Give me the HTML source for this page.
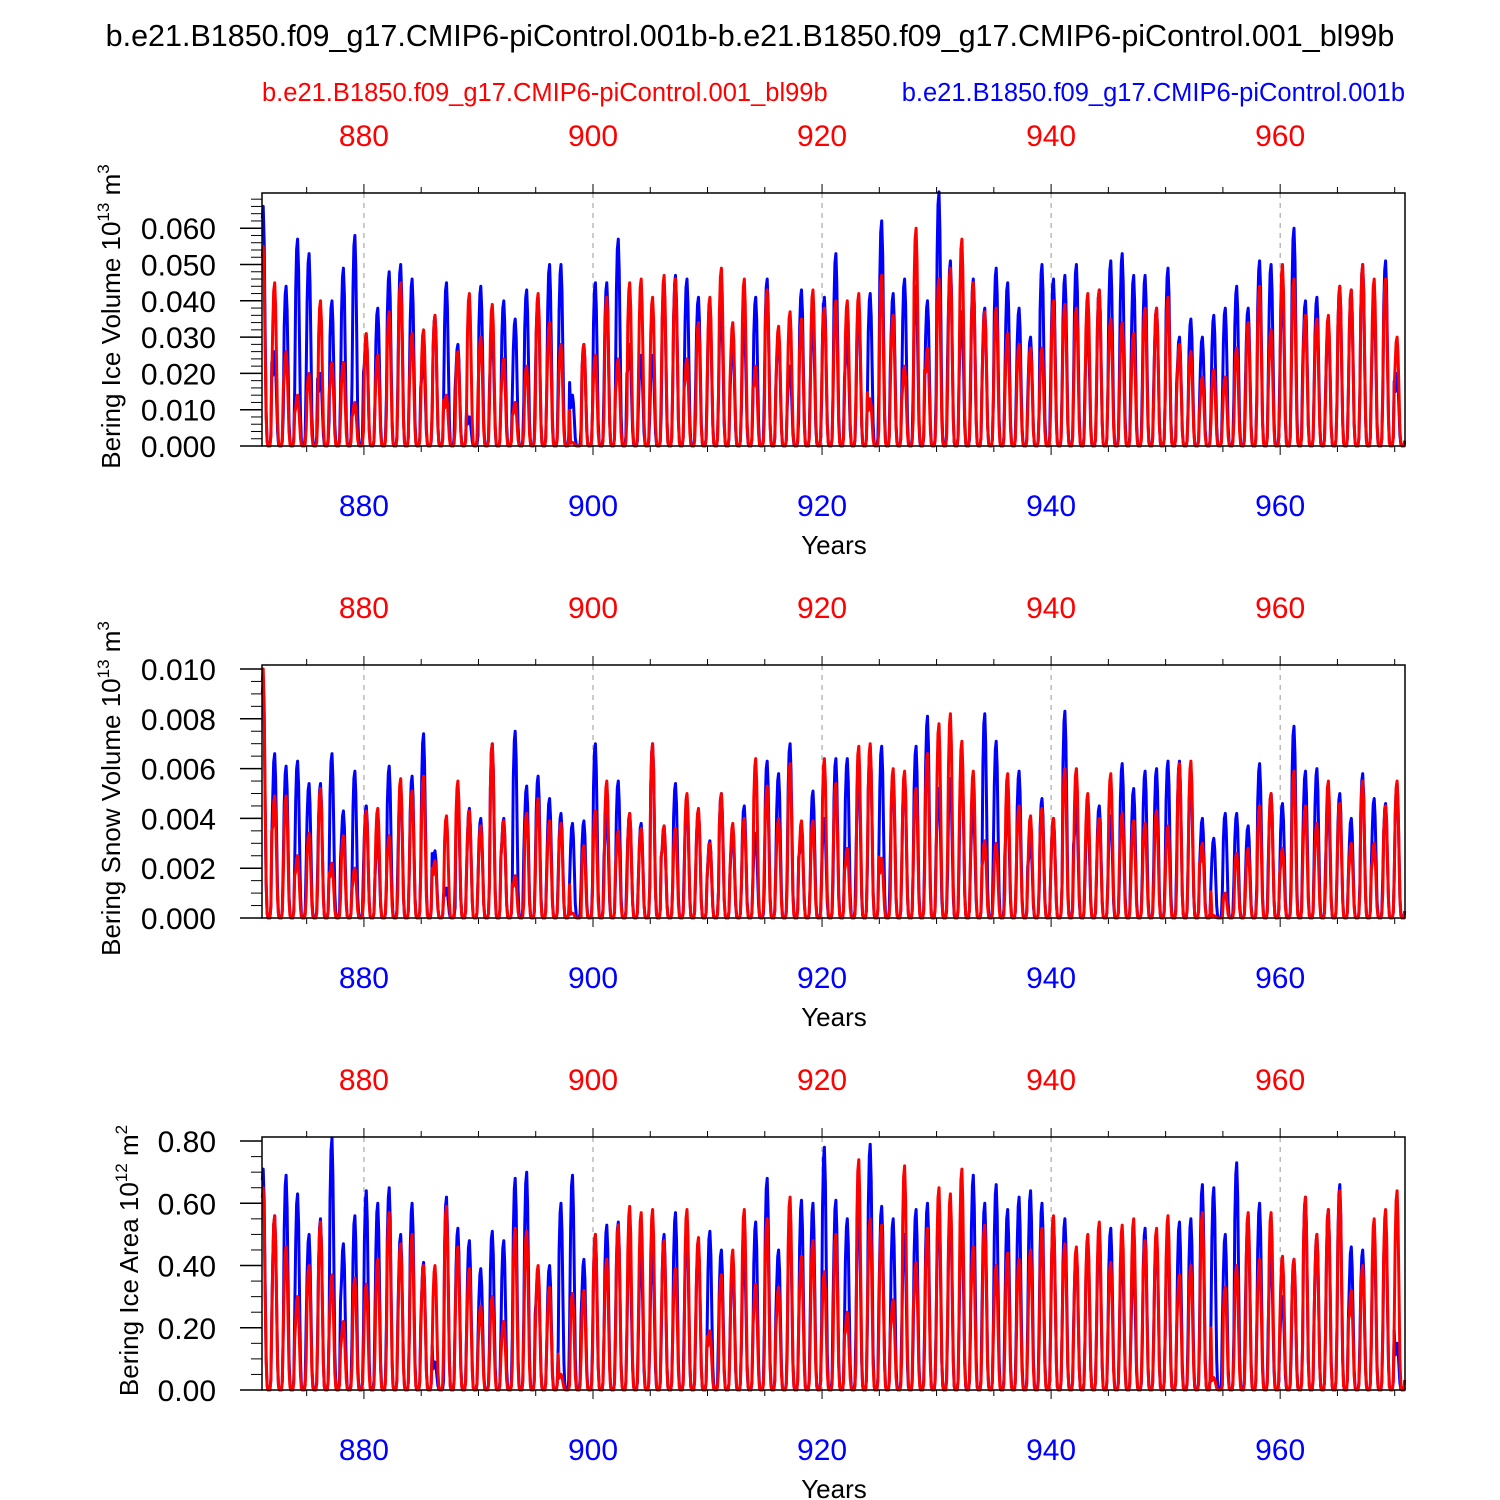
<!DOCTYPE html>
<html><head><meta charset="utf-8"><style>
html,body{margin:0;padding:0;background:#fff;}
svg{display:block;font-family:"Liberation Sans",sans-serif;}
</style></head><body>
<svg id="chart" width="1500" height="1500" viewBox="0 0 1500 1500" xmlns="http://www.w3.org/2000/svg">
<text x="750" y="46" font-size="30.5" text-anchor="middle">b.e21.B1850.f09_g17.CMIP6-piControl.001b-b.e21.B1850.f09_g17.CMIP6-piControl.001_bl99b</text>
<text x="262" y="101" font-size="25.5" fill="#ff0000">b.e21.B1850.f09_g17.CMIP6-piControl.001_bl99b</text>
<text x="1405" y="101" font-size="25.5" fill="#0000ff" text-anchor="end">b.e21.B1850.f09_g17.CMIP6-piControl.001b</text>
<g id="plots"></g>
</svg>
<script>
const startYear = 871.0;
const xTicks = [880, 900, 920, 940, 960];
const iceVolBlue = [66,26,44,57,53,20,40,49,58,30,38,48,50,46,25,36,45,28,8,44,32,40,35,43,41,50,50,14,28,45,45,57,28,25,25,45,47,46,41,39,38,29,34,41,46,31,22,43,35,41,53,30,39,42,62,42,46,44,40,70,51,37,46,38,49,45,38,30,50,46,47,50,33,43,51,53,47,47,38,49,30,35,30,36,38,44,38,51,50,43,60,40,41,34,44,43,50,40,51,20];
const iceVolRed = [55,45,26,14,20,40,23,23,12,31,25,37,45,31,32,36,14,26,42,30,39,24,12,22,42,34,28,1,28,25,41,24,45,46,41,47,46,24,34,41,49,34,46,22,43,33,37,35,43,38,40,40,42,13,47,36,22,60,27,46,49,57,45,37,38,31,28,27,27,40,39,38,42,43,35,34,31,38,38,41,28,26,19,21,19,27,34,44,32,50,46,36,35,36,44,43,50,46,46,30];
const snowVolBlue = [9.5,6.6,6.1,6.3,5.4,5.4,6.6,4.3,5.9,4.5,3.3,6.1,5.3,5.7,7.4,2.7,1.2,5.0,4.4,4.0,7.0,4.0,7.5,5.3,5.7,4.8,4.2,3.8,3.9,7.0,4.2,5.5,4.2,3.8,7.0,3.7,5.4,4.7,4.3,3.1,5.0,3.5,4.5,3.4,6.3,5.8,7.0,3.5,5.1,4.0,6.4,6.4,5.9,6.9,6.9,5.7,5.7,6.9,8.1,5.2,5.6,6.5,4.5,8.2,7.1,4.5,5.9,3.2,4.8,4.0,8.3,4.5,4.2,4.5,4.1,6.2,5.2,5.9,6.0,6.3,6.3,5.7,4.0,3.2,4.2,4.2,3.7,6.2,5.0,4.6,7.7,5.9,6.0,4.6,5.0,4.0,5.8,4.8,4.6,5.4];
const snowVolRed = [10,4.9,4.9,2.5,3.4,5.2,2.2,3.3,2.0,4.3,4.4,3.3,5.6,5.1,5.7,2.3,4.1,5.5,4.3,3.7,7.0,3.9,1.7,4.2,4.8,3.9,3.8,0.2,2.9,4.3,5.5,3.5,4.2,3.6,7.0,3.7,3.6,5.0,4.4,3.0,5.0,3.8,4.0,6.4,5.3,4.0,6.2,3.9,3.9,6.4,5.4,2.8,6.9,7.0,2.4,6.0,5.9,5.2,6.6,7.8,8.2,7.1,5.9,3.1,3.0,5.8,4.5,4.1,4.4,4.0,6.0,6.0,5.0,4.0,5.8,4.2,3.9,3.8,4.3,3.7,6.2,6.3,3.0,0.1,1.0,2.6,2.8,4.5,5.0,2.8,5.9,4.5,3.8,5.5,4.6,3.0,5.5,3.0,4.5,5.5];
const areaBlue = [0.71,0.56,0.69,0.63,0.50,0.55,0.81,0.47,0.56,0.64,0.60,0.65,0.50,0.60,0.41,0.09,0.62,0.52,0.48,0.39,0.51,0.48,0.68,0.70,0.39,0.40,0.60,0.69,0.42,0.50,0.53,0.54,0.47,0.44,0.45,0.50,0.57,0.52,0.47,0.51,0.45,0.41,0.45,0.54,0.68,0.45,0.56,0.61,0.60,0.78,0.61,0.55,0.60,0.79,0.59,0.55,0.50,0.58,0.60,0.59,0.58,0.55,0.69,0.60,0.66,0.58,0.62,0.64,0.60,0.55,0.55,0.45,0.48,0.50,0.52,0.45,0.41,0.52,0.50,0.48,0.54,0.55,0.66,0.65,0.50,0.73,0.56,0.60,0.44,0.30,0.42,0.62,0.50,0.58,0.66,0.46,0.45,0.50,0.55,0.15];
const areaRed = [0.65,0.56,0.46,0.30,0.40,0.54,0.37,0.22,0.36,0.34,0.42,0.57,0.47,0.50,0.40,0.40,0.59,0.46,0.39,0.27,0.30,0.22,0.52,0.51,0.40,0.33,0.05,0.31,0.32,0.50,0.42,0.53,0.59,0.57,0.58,0.48,0.39,0.58,0.49,0.19,0.37,0.45,0.58,0.34,0.55,0.33,0.62,0.43,0.48,0.38,0.50,0.25,0.74,0.55,0.53,0.29,0.72,0.41,0.52,0.65,0.63,0.71,0.46,0.53,0.40,0.44,0.42,0.45,0.52,0.56,0.47,0.46,0.50,0.54,0.41,0.53,0.55,0.48,0.52,0.56,0.37,0.40,0.57,0.04,0.33,0.40,0.57,0.42,0.57,0.43,0.42,0.62,0.50,0.58,0.64,0.32,0.40,0.55,0.58,0.64];
const p1Ticks = ["0.000","0.010","0.020","0.030","0.040","0.050","0.060"];
const p2Ticks = ["0.000","0.002","0.004","0.006","0.008","0.010"];
const p3Ticks = ["0.00","0.20","0.40","0.60","0.80"];

const NS="http://www.w3.org/2000/svg";
const X0=262, X1=1405, XMIN=871.1, XMAX=970.9;
const seasonal=[0.75,0.95,1,0.85,0.5,0.15,0.02,0,0,0,0.05,0.35];
function xs(yr){return X0+(yr-XMIN)/(XMAX-XMIN)*(X1-X0);}
function mk(tag,attrs,parent){const e=document.createElementNS(NS,tag);for(const k in attrs)e.setAttribute(k,attrs[k]);parent.appendChild(e);return e;}
const root=document.getElementById('plots');

function panel(id,top,ymax,scale,blue,red,ticks,step,minor,labelMain,labelExp,unitExp,labelCx){
  const H=253, bot=top+H;
  const g=mk('g',{},root);
  
  
  const ys=v=>bot-(v/ymax)*H;
  xTicks.forEach(t=>{const l=mk('line',{x1:xs(t),x2:xs(t),y1:top,y2:bot,stroke:'#999','stroke-width':1,'stroke-dasharray':'5,5'},g);
    
    });
  [[blue,'#0000ff','blue'],[red,'#ff0000','red']].forEach(([arr,col,nm])=>{
    let pts=[];
    arr.forEach((pk,k)=>{for(let m=0;m<12;m++){const yr=startYear+k+(m+0.5)/12;if(yr<XMIN-0.05||yr>XMAX+0.05)continue;pts.push(xs(yr).toFixed(1)+','+ys(pk*scale*seasonal[m]).toFixed(1));}});
    const p=mk('polyline',{points:pts.join(' '),fill:'none',stroke:col,'stroke-width':3,'stroke-linejoin':'round'},g);
    
    
  });
  const fr=mk('rect',{x:X0,y:top,width:X1-X0,height:H,fill:'none',stroke:'#000','stroke-width':1.5},g);
  
  
  for(let v=0;v<=ymax+1e-9;v+=minor){mk('line',{x1:X0-11,x2:X0,y1:ys(v),y2:ys(v),stroke:'#000','stroke-width':1},g);}
  ticks.forEach((t,i)=>{const y=ys(i*step);mk('line',{x1:X0-22,x2:X0,y1:y,y2:y,stroke:'#000','stroke-width':1.5},g);
    const tx=mk('text',{x:216,y:y+11,'font-size':30,'text-anchor':'end'},g);tx.textContent=t;
    
    });
  for(let yr=875;yr<=970;yr+=5){const x=xs(yr);const L=(yr%20===0)?9:6;
    mk('line',{x1:x,x2:x,y1:top-L,y2:top,stroke:'#000','stroke-width':1},g);
    mk('line',{x1:x,x2:x,y1:bot,y2:bot+L,stroke:'#000','stroke-width':1},g);}
  xTicks.forEach(t=>{
    const a=mk('text',{x:xs(t),y:top-47,'font-size':30,'text-anchor':'middle',fill:'#ff0000'},g);a.textContent=t;
    
    
    const b=mk('text',{x:xs(t),y:bot+70,'font-size':30,'text-anchor':'middle',fill:'#0000ff'},g);b.textContent=t;
    
    
  });
  const yt=mk('text',{x:834,y:bot+108,'font-size':26,'text-anchor':'middle'},g);yt.textContent='Years';
  
  
  const cy=top+H/2-3;
  const yl=mk('text',{transform:`translate(${labelCx},${cy}) rotate(-90)`,'font-size':26,'text-anchor':'middle'},g);
  
  
  yl.innerHTML=labelMain+' 10<tspan font-size="17" dy="-11">'+labelExp+'</tspan><tspan dy="11"> m</tspan><tspan font-size="17" dy="-11">'+unitExp+'</tspan>';
}
panel('ice-volume',193,0.0697,0.001,iceVolBlue,iceVolRed,p1Ticks,0.01,0.002,'Bering Ice Volume','13','3',120);
panel('snow-volume',665,0.01016,0.001,snowVolBlue,snowVolRed,p2Ticks,0.002,0.0005,'Bering Snow Volume','13','3',120);
panel('ice-area',1137,0.813,1,areaBlue,areaRed,p3Ticks,0.2,0.05,'Bering Ice Area','12','2',138);
</script>
</body></html>
